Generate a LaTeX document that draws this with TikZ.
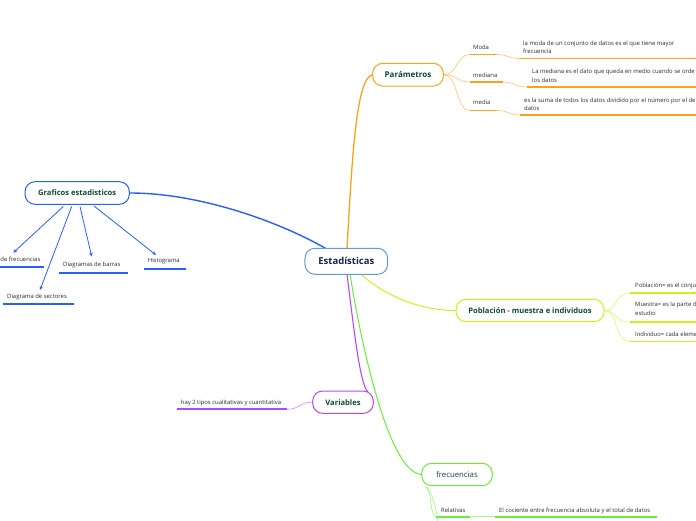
\documentclass[tikz,border=0pt]{standalone}
\usepackage{fontspec}
\setmainfont{Open Sans}
\usetikzlibrary{arrows.meta}
\definecolor{orng}{RGB}{248,163,30}
\definecolor{blu}{RGB}{40,95,255}
\definecolor{estb}{RGB}{95,155,215}
\definecolor{ylw}{RGB}{208,240,30}
\definecolor{purp}{RGB}{178,75,245}
\definecolor{grn}{RGB}{105,238,55}
\definecolor{dkgrn}{RGB}{18,72,52}
\definecolor{navy}{RGB}{22,38,72}
\definecolor{txt}{RGB}{45,45,45}
\tikzset{
  mainbox/.style={draw, fill=white, rounded corners=10pt, line width=1pt, inner sep=0pt, text=dkgrn},
  small/.style={font=\fontsize{5.9}{8.7}\selectfont, text=txt, inner sep=0pt, anchor=base west},
  uline/.style={line width=1.8pt},
  soft/.style={line width=0.7pt, opacity=0.55},
  arr/.style={line width=0.8pt, blu, -{Stealth[length=4pt,width=3.5pt]}}
}
\begin{document}
\begin{tikzpicture}[x=1pt,y=-1pt]
\useasboundingbox[fill=white] (0,0) rectangle (696,520);

\coordinate (eTopL) at (326.7,249);
\coordinate (eTop) at (347,249);
\coordinate (eBot1) at (347,274);
\coordinate (eBot2) at (350,274);
\coordinate (eBot3) at (360,273.5);

% ---------- main connectors ----------
\draw[line width=1.4pt, blu] (130,193) .. controls (200,193) and (280,222) .. (eTopL);
\draw[line width=1.3pt, orng] (eTop) .. controls (352,160) and (356,76) .. (373,74.7);
\draw[line width=1pt, ylw] (eBot3) .. controls (385,296) and (420,310.5) .. (456,310.5);
\draw[line width=1.1pt, purp] (eBot1) .. controls (354,330) and (360,385) .. (368,392);
\draw[line width=1pt, grn] (eBot2) .. controls (362,350) and (390,474.5) .. (422,474.5);

% ---------- boxes ----------
\node[mainbox, draw=estb, text=navy, minimum width=82.7pt, minimum height=26pt, font=\fontsize{9.5}{11}\selectfont\bfseries] (est) at (346.3,261.3) {Estadísticas};
\node[mainbox, draw=orng, minimum width=70.6pt, minimum height=22.7pt, font=\fontsize{8}{10}\selectfont\bfseries] (par) at (408,74.7) {Parámetros};
\node[mainbox, draw=blu, minimum width=104.3pt, minimum height=22.6pt, font=\fontsize{7.6}{10}\selectfont\bfseries] (graf) at (77.2,193) {Graficos estadisticos};
\node[mainbox, draw=ylw, minimum width=148pt, minimum height=22.4pt, font=\fontsize{7.6}{10}\selectfont\bfseries] (pob) at (530,310.5) {Población - muestra e individuos};
\node[mainbox, draw=purp, minimum width=60.6pt, minimum height=22.3pt, font=\fontsize{7.6}{10}\selectfont\bfseries] (var) at (343,402.2) {Variables};
\node[mainbox, draw=grn, minimum width=70.6pt, minimum height=22.4pt, font=\fontsize{7.8}{10}\selectfont] (frec) at (457,474.5) {frecuencias};

% ---------- Parametros children ----------
\node[small] (moda) at (473,49) {Moda};
\coordinate (modaA) at (470,54.5); \coordinate (modaB) at (496,54.5);
\coordinate (modaC) at (520,58.5); \coordinate (modaD) at (696,58.5);
\node[small] (modaT) at (523,45) {\begin{tabular}[t]{@{}l@{}}la moda de un conjunto de datos es el que tiene mayor\\frecuencia\end{tabular}};
\draw[soft, orng] (par.east) .. controls (458,74.7) and (456,54.5) .. (modaA);
\draw[uline, orng] (modaA) -- (modaB);
\draw[soft, orng] (modaB) .. controls (508,54.5) and (508,58.5) .. (modaC);
\draw[uline, orng] (modaC) -- (modaD);

\node[small] (med) at (473,77.7) {mediana};
\coordinate (medA) at (470,82); \coordinate (medB) at (503,82);
\coordinate (medC) at (527,87); \coordinate (medD) at (696,87);
\node[small] (medT) at (532,73.7) {\begin{tabular}[t]{@{}l@{}}La mediana es el dato que queda en medio cuando se orde\\los datos\end{tabular}};
\draw[soft, orng] (par.east) .. controls (458,74.7) and (456,82) .. (medA);
\draw[uline, orng] (medA) -- (medB);
\draw[soft, orng] (medB) .. controls (515,82) and (515,87) .. (medC);
\draw[uline, orng] (medC) -- (medD);

\node[small] (mda) at (473,104.5) {media};
\coordinate (mdaA) at (470,110.5); \coordinate (mdaB) at (497,110.5);
\coordinate (mdaC) at (520,115); \coordinate (mdaD) at (696,115);
\node[small] (mdaT) at (524,102) {\begin{tabular}[t]{@{}l@{}}es la suma de todos los datos dividido por el número por el de\\datos\end{tabular}};
\draw[soft, orng] (par.east) .. controls (458,74.7) and (456,110.5) .. (mdaA);
\draw[uline, orng] (mdaA) -- (mdaB);
\draw[soft, orng] (mdaB) .. controls (509,110.5) and (509,115) .. (mdaC);
\draw[uline, orng] (mdaC) -- (mdaD);

% ---------- Graficos children ----------
\coordinate (g1s) at (63.3,206.5); \coordinate (g1e) at (13.3,252.7);
\coordinate (g2s) at (71.7,206.5); \coordinate (g2e) at (40,290);
\coordinate (g3s) at (80,206.5);   \coordinate (g3e) at (91.7,256.5);
\coordinate (g4s) at (94,206);     \coordinate (g4e) at (156,255);
\draw[arr] (g1s) -- (g1e);
\draw[arr] (g2s) -- (g2e);
\draw[arr] (g3s) -- (g3e);
\draw[arr] (g4s) -- (g4e);

\node[small] (tf) at (0.3,261.7) {de frecuencias};
\coordinate (tfA) at (0,267.3); \coordinate (tfB) at (44,267.3);
\draw[uline, blu] (tfA) -- (tfB);
\node[small] (db) at (63,266.7) {Diagramas de barras};
\coordinate (dbA) at (59.3,272.7); \coordinate (dbB) at (127.7,272.7);
\draw[uline, blu] (dbA) -- (dbB);
\node[small] (hi) at (147.7,262.7) {Histograma};
\coordinate (hiA) at (144,268.7); \coordinate (hiB) at (185.7,268.7);
\draw[uline, blu] (hiA) -- (hiB);
\node[small] (ds) at (7,298.7) {Diagrama de sectores};
\coordinate (dsA) at (2.7,304.3); \coordinate (dsB) at (74,304.3);
\draw[uline, blu] (dsA) -- (dsB);

% ---------- Poblacion children ----------
\node[small] (p1) at (635,287.3) {Población= es el conju};
\coordinate (p1A) at (630,293.3); \coordinate (p1B) at (696,293.3);
\node[small] (p2) at (635,306.7) {\begin{tabular}[t]{@{}l@{}}Muestra= es la parte d\\estudio\end{tabular}};
\coordinate (p2A) at (630,322.3); \coordinate (p2B) at (696,322.3);
\node[small] (p3) at (635,336.7) {Individuo= cada eleme};
\coordinate (p3A) at (630,341.5); \coordinate (p3B) at (696,341.5);
\draw[soft, ylw] (pob.east) .. controls (618,310.5) and (614,293.3) .. (p1A);
\draw[soft, ylw] (pob.east) .. controls (618,310.5) and (614,322.3) .. (p2A);
\draw[soft, ylw] (pob.east) .. controls (618,310.5) and (614,341.5) .. (p3A);
\draw[uline, ylw] (p1A) -- (p1B);
\draw[uline, ylw] (p2A) -- (p2B);
\draw[uline, ylw] (p3A) -- (p3B);

% ---------- Variables child ----------
\node[small] (vt) at (180.7,404.3) {hay 2 tipos cualitativas y cuantitativa};
\coordinate (vA) at (176.7,409.3); \coordinate (vB) at (286.7,409.3);
\draw[uline, purp] (vA) -- (vB);
\draw[soft, purp] (vB) .. controls (300,409.3) and (299,402.2) .. (var.west);

% ---------- frecuencias children ----------
\coordinate (fst) at (426,486.5);
\node[small] (rel) at (441,512.3) {Relativas};
\coordinate (rA) at (436,516.7); \coordinate (rB) at (470,516.7);
\coordinate (rC) at (495,516.7); \coordinate (rD) at (657,516.7);
\node[small] (relT) at (499,512.3) {El cociente entre frecuencia absoluta y el total de datos};
\draw[soft, grn] (fst) .. controls (432,492) and (430,516.7) .. (rA);
\draw[soft, grn] (fst) .. controls (434,495) and (436,510) .. (439,528);
\draw[uline, grn] (rA) -- (rB);
\draw[soft, grn, line width=1.4pt] (rB) -- (rC);
\draw[uline, grn] (rC) -- (rD);
\end{tikzpicture}
\end{document}
